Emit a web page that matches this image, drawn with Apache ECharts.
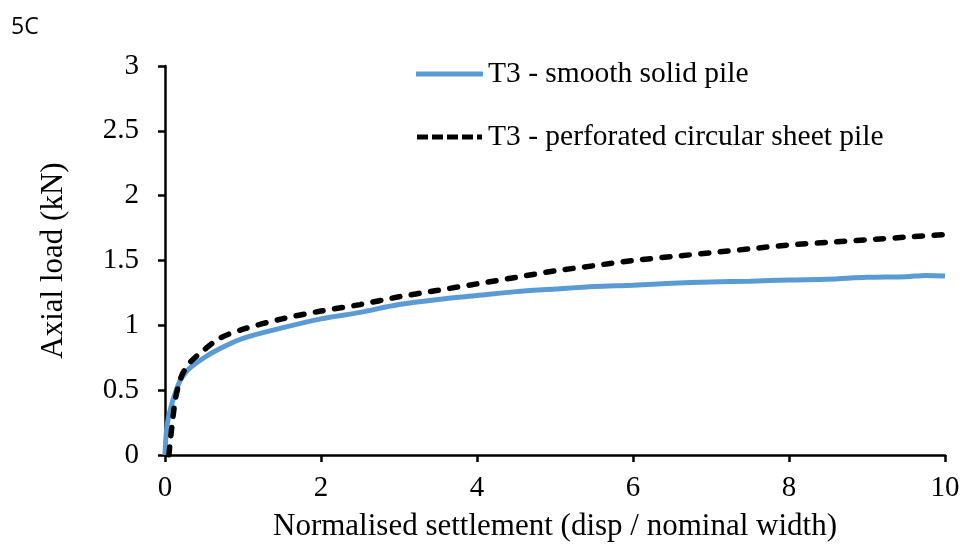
<!DOCTYPE html>
<html><head><meta charset="utf-8">
<script src="https://cdn.jsdelivr.net/npm/echarts@6/dist/echarts.min.js"></script>
<style>html,body{margin:0;padding:0;background:#fff}#c{width:968px;height:548px}</style>
</head><body><div id="c"></div>
<script>
var seriesNames = ['T3 - smooth solid pile', 'T3 - perforated circular sheet pile'];
var smoothX = [0, 0.01, 0.03, 0.06, 0.1, 0.15, 0.2, 0.3, 0.5, 0.7, 1.0, 1.5, 2, 2.5, 3, 3.5, 4, 4.5, 5, 5.5, 6, 6.5, 7, 7.5, 8, 8.5, 9, 9.5, 9.75, 10];
var smoothY = [0, 0.12, 0.24, 0.33, 0.42, 0.51, 0.58, 0.66, 0.75, 0.82, 0.9, 0.98, 1.05, 1.1, 1.16, 1.2, 1.23, 1.26, 1.28, 1.3, 1.31, 1.325, 1.335, 1.34, 1.35, 1.355, 1.37, 1.375, 1.385, 1.38];
var perfX = [0.05, 0.07, 0.1, 0.13, 0.17, 0.22, 0.3, 0.4, 0.5, 0.7, 1.0, 1.5, 2, 2.5, 3, 3.5, 4, 4.5, 5, 5.5, 6, 6.5, 7, 7.5, 8, 8.5, 9, 9.5, 10];
var perfY = [0, 0.12, 0.28, 0.42, 0.53, 0.62, 0.7, 0.76, 0.81, 0.9, 0.97, 1.05, 1.11, 1.16, 1.22, 1.27, 1.32, 1.37, 1.42, 1.46, 1.5, 1.53, 1.56, 1.59, 1.62, 1.64, 1.66, 1.68, 1.70];
var xTicks = [0, 2, 4, 6, 8, 10];
var yTicks = [0, 0.5, 1, 1.5, 2, 2.5, 3];

function pairs(xs, ys) { return xs.map(function (x, i) { return [x, ys[i]]; }); }
var serif = '"Liberation Serif", "Times New Roman", serif';
var dashIcon = 'path://M0,0h11v5h-11z M15,0h11v5h-11z M30,0h11v5h-11z M45,0h11v5h-11z M60,0h5v5h-5z';
var chart = echarts.init(document.getElementById('c'));
chart.setOption({
  animation: false,
  graphic: [{ type: 'text', left: 11, top: 16, style: { text: '5C', font: '23px "Open Sans", sans-serif', fill: '#000' } }],
  legend: {
    orient: 'vertical', left: 411, top: 54, itemGap: 33, itemWidth: 67, itemHeight: 5,
    textStyle: { fontFamily: serif, fontSize: 29.5, color: '#000', padding: [0, 0, 0, 0] },
    data: [
      { name: seriesNames[0], icon: 'rect', itemStyle: { color: '#5b9bd5' } },
      { name: seriesNames[1], icon: dashIcon, itemStyle: { color: '#000' } }
    ]
  },
  grid: { left: 165, right: 23, top: 66, bottom: 93, containLabel: false },
  xAxis: {
    type: 'value', min: 0, max: 10, interval: 2,
    name: 'Normalised settlement (disp / nominal width)', nameLocation: 'middle', nameGap: 56,
    nameTextStyle: { fontFamily: serif, fontSize: 31, color: '#000' },
    axisLine: { show: true, lineStyle: { color: '#000', width: 2.5 } },
    axisTick: { show: true, length: 7, lineStyle: { color: '#000', width: 2.5 } },
    axisLabel: { fontFamily: serif, fontSize: 29, color: '#000', margin: 19,
      formatter: function (v) { return xTicks.indexOf(v) >= 0 ? String(v) : ''; } },
    splitLine: { show: false }
  },
  yAxis: {
    type: 'value', min: 0, max: 3, interval: 0.5,
    name: 'Axial load (kN)', nameLocation: 'middle', nameGap: 96, nameRotate: 90,
    nameTextStyle: { fontFamily: serif, fontSize: 31, color: '#000' },
    axisLine: { show: true, lineStyle: { color: '#000', width: 2.5 } },
    axisTick: { show: true, length: 7, lineStyle: { color: '#000', width: 2.5 } },
    axisLabel: { fontFamily: serif, fontSize: 29, color: '#000', margin: 26,
      formatter: function (v) { return yTicks.indexOf(v) >= 0 ? String(v) : ''; } },
    splitLine: { show: false }
  },
  series: [
    { name: seriesNames[0], type: 'line', data: pairs(smoothX, smoothY), symbol: 'none', smooth: 0.3,
      lineStyle: { color: '#5b9bd5', width: 5 }, itemStyle: { color: '#5b9bd5' }, z: 2 },
    { name: seriesNames[1], type: 'line', data: pairs(perfX, perfY), symbol: 'none', smooth: 0.3,
      lineStyle: { color: '#000', width: 5.5, type: [8, 11.5], cap: 'round' }, itemStyle: { color: '#000' }, z: 3 }
  ]
});
</script></body></html>
